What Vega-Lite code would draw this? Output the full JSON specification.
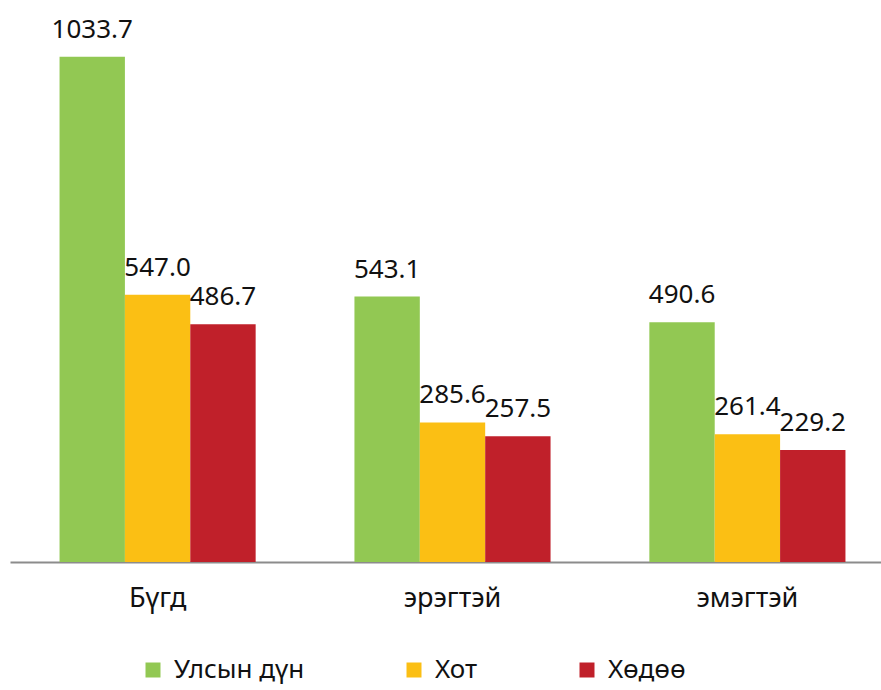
{
  "$schema": "https://vega.github.io/schema/vega-lite/v6.json",
  "width": 885,
  "height": 562,
  "autosize": "none",
  "padding": {"left": 10, "top": 0, "right": 0, "bottom": 128},
  "background": "white",
  "config": {"view": {"stroke": null}, "font": "Noto Sans"},
  "data": {"values": [
    {"group": "Бүгд", "series": "Улсын дүн", "value": 1033.7},
    {"group": "Бүгд", "series": "Хот", "value": 547.0},
    {"group": "Бүгд", "series": "Хөдөө", "value": 486.7},
    {"group": "эрэгтэй", "series": "Улсын дүн", "value": 543.1},
    {"group": "эрэгтэй", "series": "Хот", "value": 285.6},
    {"group": "эрэгтэй", "series": "Хөдөө", "value": 257.5},
    {"group": "эмэгтэй", "series": "Улсын дүн", "value": 490.6},
    {"group": "эмэгтэй", "series": "Хот", "value": 261.4},
    {"group": "эмэгтэй", "series": "Хөдөө", "value": 229.2}
  ]},
  "encoding": {
    "x": {"field": "group", "type": "nominal", "sort": ["Бүгд", "эрэгтэй", "эмэгтэй"],
      "scale": {"paddingInner": 0.335, "paddingOuter": 0.168},
      "axis": {"title": null, "labelAngle": 0, "ticks": false, "domainColor": "#8c8c8c", "domainWidth": 2,
        "labelFontSize": 27, "labelColor": "#111", "labelPadding": 23}},
    "xOffset": {"field": "series", "type": "nominal", "sort": ["Улсын дүн", "Хот", "Хөдөө"], "scale": {"paddingInner": 0, "paddingOuter": 0}},
    "y": {"field": "value", "type": "quantitative", "scale": {"domain": [0, 1150], "nice": false}, "axis": null}
  },
  "layer": [
    {"mark": {"type": "bar"},
     "encoding": {"color": {"field": "series", "type": "nominal",
       "scale": {"domain": ["Улсын дүн", "Хот", "Хөдөө"], "range": ["#92c853", "#fbbf14", "#c0202a"]},
       "legend": {"title": null, "orient": "none", "legendX": 130, "legendY": 657, "direction": "horizontal",
         "symbolType": "square", "symbolSize": 225, "symbolStrokeWidth": 0, "labelFontSize": 26, "labelColor": "#111",
         "columnPadding": 96, "labelOffset": 8}}}},
    {"mark": {"type": "text", "dy": -19, "baseline": "alphabetic", "fontSize": 26, "color": "#111"},
     "encoding": {"text": {"field": "value", "type": "quantitative", "format": ".1f"}}}
  ]
}
